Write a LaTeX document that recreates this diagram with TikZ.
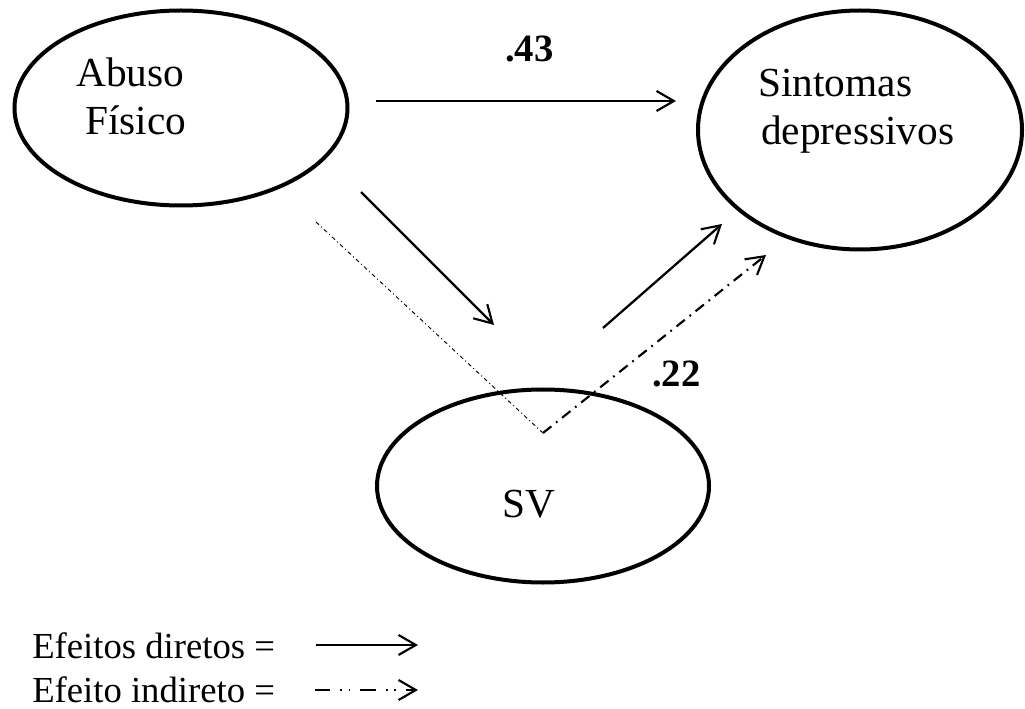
\documentclass[tikz,border=0pt]{standalone}
\usepackage{fontspec}
\setmainfont{Liberation Serif}
\usetikzlibrary{shapes.geometric,arrows.meta}
\begin{document}
\begin{tikzpicture}[x=0.75pt,y=-0.75pt,
  latent/.style={draw,ellipse,line width=3pt,inner sep=0pt},
  lbl/.style={font=\fontsize{31}{37}\selectfont,inner sep=0pt,anchor=base west},
  leg/.style={font=\fontsize{27.5}{33}\selectfont,inner sep=0pt,anchor=base west},
  coef/.style={font=\fontsize{29}{35}\selectfont\bfseries,inner sep=0pt,anchor=base west},
  tip/.style={-{Straight Barb[length=13pt,width=15pt,line width=1.6pt]}},
  direct/.style={tip,line width=1.7pt},
  indirect/.style={tip,line width=1.6pt,dash pattern=on 8pt off 4.5pt on 1.3pt off 4.5pt},
  faint/.style={line width=0.7pt,dash pattern=on 3pt off 2.2pt on 0.8pt off 2.2pt}]
\useasboundingbox (0,0) rectangle (1025,709);

% latent variables
\node[latent,minimum width=333*0.75pt,minimum height=195*0.75pt] (abuso) at (181,108) {};
\node[latent,minimum width=324*0.75pt,minimum height=239*0.75pt] (sint) at (860,130) {};
\node[latent,minimum width=332*0.75pt,minimum height=193*0.75pt] (sv) at (543,486) {};

\node[lbl] (t1) at (76,87) {Abuso};
\node[lbl] (t2) at (85,135) {Físico};
\node[lbl] (t3) at (758,97) {Sintomas};
\node[lbl] (t4) at (761,145) {depressivos};
\node[lbl] (t5) at (502,517) {SV};

% arrow end points
\coordinate (h1) at (376,101);
\coordinate (h2) at (676,101);
\coordinate (d1) at (361,192);
\coordinate (d2) at (494,325);
\coordinate (u1) at (603,328);
\coordinate (u2) at (722,224);
\coordinate (i1) at (316,222);
\coordinate (i2) at (543,433);
\coordinate (i3) at (766,255);

\draw[direct] (h1) -- (h2);
\draw[direct] (d1) -- (d2);
\draw[direct] (u1) -- (u2);
\draw[faint] (i1) -- (i2);
\draw[indirect] (i2) -- (i3);

\node[coef] (c1) at (505,62) {.43};
\node[coef] (c2) at (652,387) {.22};

% legend
\node[leg] (l1) at (32,658) {Efeitos diretos =};
\node[leg] (l2) at (32,702) {Efeito indireto =};
\coordinate (a1) at (316,645);
\coordinate (a2) at (418,645);
\coordinate (b1) at (315,690);
\coordinate (b2) at (418,690);
\draw[direct] (a1) -- (a2);
\draw[tip,line width=1.6pt,dash pattern=on 11.5pt off 7.5pt on 1.3pt off 5pt on 1.3pt off 7.5pt] (b1) -- (b2);
\end{tikzpicture}
\end{document}
